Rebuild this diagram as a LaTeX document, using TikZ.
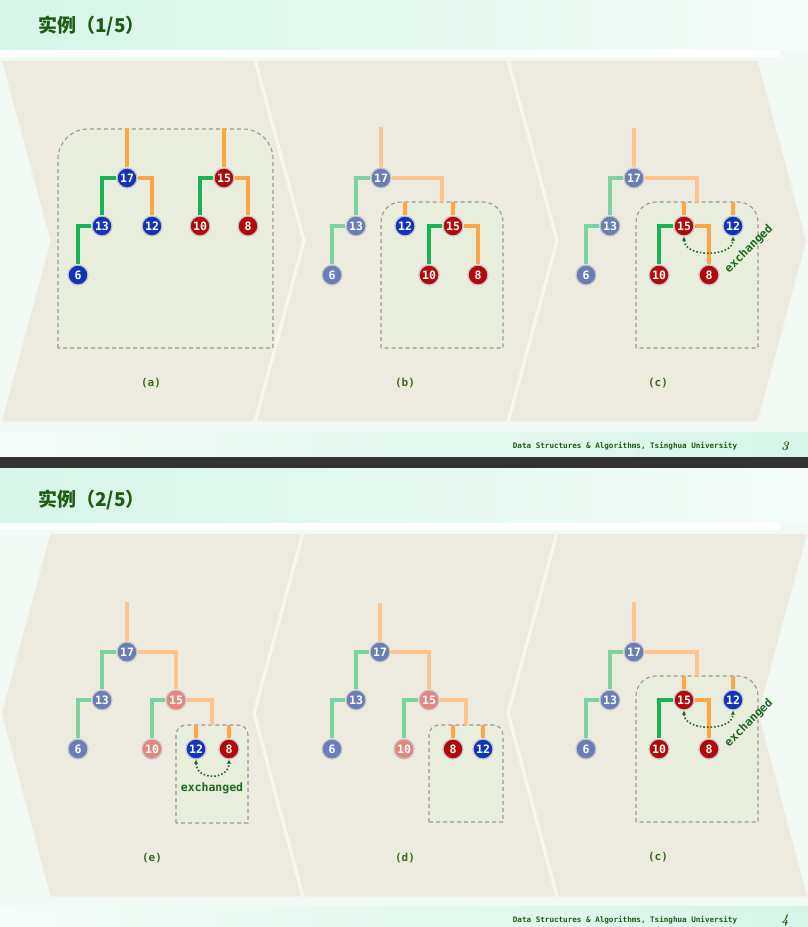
\documentclass[tikz,border=0pt]{standalone}
\usepackage{fontspec}
\usepackage{tikz}
\usetikzlibrary{positioning,arrows.meta}
\newfontfamily\cjk{Noto Sans CJK SC}
\newfontfamily\numfont{DejaVu Sans Mono}

\definecolor{pagebg}{HTML}{F1FAF5}
\definecolor{mintdeep}{HTML}{D6F5E8}
\definecolor{mintpale}{HTML}{F5FCF9}
\definecolor{darkbar}{HTML}{333333}
\definecolor{panelbeige}{HTML}{EDEBE0}
\definecolor{panelgap}{HTML}{F6F7F1}
\definecolor{boxfill}{HTML}{E9EDDC}
\definecolor{framegray}{HTML}{999999}
\definecolor{nodeblue}{HTML}{1234B6}
\definecolor{nodered}{HTML}{B20A0A}
\definecolor{fadeblue}{HTML}{6C7DB6}
\definecolor{fadered}{HTML}{E2877F}
\definecolor{rimgray}{HTML}{C8C8C8}
\definecolor{edgegreen}{HTML}{18B257}
\definecolor{edgeorange}{HTML}{FFA545}
\definecolor{fadegreen}{HTML}{7DD3A0}
\definecolor{fadeorange}{HTML}{FCC590}
\definecolor{titlegreen}{HTML}{1F5C14}
\definecolor{labelgreen}{HTML}{3B6A1C}
\definecolor{swapgreen}{HTML}{1E6B1E}

\tikzstyle{panel}=[fill=panelbeige, draw=panelgap, line width=1.5pt, line join=miter]
\tikzstyle{mergeframe}=[draw=framegray, fill=boxfill, line width=1.1pt, dash pattern=on 4pt off 3pt]
\tikzstyle{heapkey}=[circle, minimum size=20pt, inner sep=0pt, draw=rimgray, line width=1.2pt, text=white, font=\numfont\bfseries\fontsize{11.5}{12}\selectfont]
\tikzstyle{bluekey}=[heapkey, fill=nodeblue]
\tikzstyle{redkey}=[heapkey, fill=nodered]
\tikzstyle{bluefade}=[heapkey, fill=fadeblue]
\tikzstyle{redfade}=[heapkey, fill=fadered]
\tikzstyle{grn}=[draw=edgegreen, line width=3.5pt]
\tikzstyle{org}=[draw=edgeorange, line width=3.5pt]
\tikzstyle{grnfade}=[draw=fadegreen, line width=3.5pt]
\tikzstyle{orgfade}=[draw=fadeorange, line width=3.5pt]
\tikzstyle{xchg}=[draw=swapgreen, line width=1.6pt, dotted, {Latex[length=4pt,width=4.5pt]}-{Latex[length=4pt,width=4.5pt]}]
\tikzstyle{xchgtext}=[font=\numfont\bfseries\fontsize{11.5}{12}\selectfont, text=swapgreen, inner sep=1pt]
\tikzstyle{steplabel}=[font=\numfont\bfseries\fontsize{11}{11}\selectfont, text=labelgreen]
\tikzstyle{slidetitle}=[anchor=west, inner sep=0pt, font=\cjk\bfseries\fontsize{19}{19}\selectfont, text=titlegreen]
\tikzstyle{footer}=[font=\numfont\bfseries\fontsize{7.6}{8}\selectfont, text=titlegreen]
\tikzstyle{pageno}=[font=\bfseries\itshape\fontsize{13}{13}\selectfont, text=titlegreen]

% dashed box, round top corners: x1 y1 x2 y2 radius
\newcommand{\mergebox}[5]{%
    \draw[mergeframe] (#1,#4) -- (#1,#2+#5) arc[start angle=180, end angle=270, radius=#5]
        -- (#3-#5,#2) arc[start angle=270, end angle=360, radius=#5] -- (#3,#4) -- cycle;}

% step (c), drawn on both slides
\newcommand{\stepc}[2]{%
    \begin{scope}[shift={(0,#2)}]
        \mergebox{636}{202}{758}{348}{20}
        \node (#1-17)[bluefade] at (634,178) {17};
        \node (#1-13)[bluefade] at (610,226) {13};
        \node (#1-6)[bluefade] at (586,275) {6};
        \node (#1-15)[redkey] at (684,226) {15};
        \node (#1-12)[bluekey] at (733,226) {12};
        \node (#1-10)[redkey] at (659,275) {10};
        \node (#1-8)[redkey] at (709,275) {8};
        \coordinate (#1-top) at (634,128);
        \coordinate (#1-join) at (697,202);
        \coordinate (#1-s1) at (684,202);
        \coordinate (#1-s2) at (733,202);
        \draw[orgfade] (#1-top) -- (#1-17);
        \draw[grnfade] (#1-17) -| (#1-13);
        \draw[grnfade] (#1-13) -| (#1-6);
        \draw[orgfade] (#1-17) -| (#1-join);
        \draw[org] (#1-s1) -- (#1-15);
        \draw[org] (#1-s2) -- (#1-12);
        \draw[grn] (#1-15) -| (#1-10);
        \draw[org] (#1-15) -| (#1-8);
        \draw[xchg] (#1-15.south) .. controls +(0,21) and +(0,21) .. (#1-12.south);
        \node (#1-xtext)[xchgtext, rotate=45] at (749,249) {exchanged};
        \node (#1-label)[steplabel] at (658,383) {(c)};
    \end{scope}}

\begin{document}
\begin{tikzpicture}[x=1pt,y=-1pt]
    \useasboundingbox (0,0) rectangle (808,927);

    % slide bands
    \fill[pagebg] (0,0) rectangle (808,927);
    \shade[left color=mintdeep, right color=mintpale] (0,0) rectangle (808,50);
    \fill[white] (0,50) rectangle (780,57);
    \shade[left color=mintpale, right color=mintdeep] (0,432) rectangle (808,457);
    \fill[darkbar] (0,457) rectangle (808,468);
    \shade[left color=mintdeep, right color=mintpale] (0,468) rectangle (808,523);
    \fill[white] (0,523) rectangle (780,530);
    \shade[left color=mintpale, right color=mintdeep] (0,906) rectangle (808,927);

    \node (title1)[slidetitle] at (38,26) {实例（1/5）};
    \node (title2)[slidetitle] at (38,500) {实例（2/5）};
    \node (foot1)[footer] at (625,446) {Data Structures \& Algorithms, Tsinghua University};
    \node (page1)[pageno] at (785,446) {3};
    \node (foot2)[footer] at (625,920) {Data Structures \& Algorithms, Tsinghua University};
    \node (page2)[pageno] at (785,920) {4};

    % chevrons
    \foreach \l/\r in {1/254,256/507,509/758}{
        \draw[panel] (\l,60) -- (\r,60) -- (\r+49,241) -- (\r,422) -- (\l,422) -- (\l+49,241) -- cycle;
    };
    \foreach \l/\r in {50/302,304/556,558/808}{
        \draw[panel] (\l,533) -- (\r,533) -- (\r-49,713) -- (\r,897) -- (\l,897) -- (\l-49,713) -- cycle;
    };

    % (a)
    \mergebox{58}{129}{273}{348}{30}
    \node (a17)[bluekey] at (127,178) {17};
    \node (a13)[bluekey] at (102,226) {13};
    \node (a12)[bluekey] at (152,226) {12};
    \node (a6)[bluekey] at (78,275) {6};
    \node (a15)[redkey] at (224,178) {15};
    \node (a10)[redkey] at (200,226) {10};
    \node (a8)[redkey] at (248,226) {8};
    \coordinate (atop1) at (127,128);
    \coordinate (atop2) at (224,128);
    \draw[org] (atop1) -- (a17);
    \draw[grn] (a17) -| (a13);
    \draw[org] (a17) -| (a12);
    \draw[grn] (a13) -| (a6);
    \draw[org] (atop2) -- (a15);
    \draw[grn] (a15) -| (a10);
    \draw[org] (a15) -| (a8);
    \node (alabel)[steplabel] at (151,383) {(a)};

    % (b)
    \mergebox{381}{202}{503}{348}{20}
    \node (b17)[bluefade] at (381,178) {17};
    \node (b13)[bluefade] at (356,226) {13};
    \node (b6)[bluefade] at (332,275) {6};
    \node (b12)[bluekey] at (405,226) {12};
    \node (b15)[redkey] at (453,226) {15};
    \node (b10)[redkey] at (429,275) {10};
    \node (b8)[redkey] at (478,275) {8};
    \coordinate (btop) at (381,127);
    \coordinate (bjoin) at (442,202);
    \coordinate (bs1) at (405,202);
    \coordinate (bs2) at (453,202);
    \draw[orgfade] (btop) -- (b17);
    \draw[grnfade] (b17) -| (b13);
    \draw[grnfade] (b13) -| (b6);
    \draw[orgfade] (b17) -| (bjoin);
    \draw[org] (bs1) -- (b12);
    \draw[org] (bs2) -- (b15);
    \draw[grn] (b15) -| (b10);
    \draw[org] (b15) -| (b8);
    \node (blabel)[steplabel] at (405,383) {(b)};

    % (c) on both slides
    \stepc{c1}{0}
    \stepc{c2}{474}

    % (e)
    \mergebox{176}{725}{248}{823}{10}
    \node (e17)[bluefade] at (127,652) {17};
    \node (e13)[bluefade] at (102,700) {13};
    \node (e6)[bluefade] at (78,749) {6};
    \node (e15)[redfade] at (176,700) {15};
    \node (e10)[redfade] at (152,749) {10};
    \node (e12)[bluekey] at (196,749) {12};
    \node (e8)[redkey] at (229,749) {8};
    \coordinate (etop) at (127,602);
    \coordinate (ejoin) at (212,725);
    \coordinate (es1) at (196,725);
    \coordinate (es2) at (229,725);
    \draw[orgfade] (etop) -- (e17);
    \draw[grnfade] (e17) -| (e13);
    \draw[grnfade] (e13) -| (e6);
    \draw[orgfade] (e17) -| (e15);
    \draw[grnfade] (e15) -| (e10);
    \draw[orgfade] (e15) -| (ejoin);
    \draw[org] (es1) -- (e12);
    \draw[org] (es2) -- (e8);
    \draw[xchg] (e12.south) .. controls +(0,21) and +(0,21) .. (e8.south);
    \node (extext)[xchgtext] at (212,788) {exchanged};
    \node (elabel)[steplabel] at (152,858) {(e)};

    % (d)
    \mergebox{429}{725}{503}{822}{10}
    \node (d17)[bluefade] at (380,652) {17};
    \node (d13)[bluefade] at (356,700) {13};
    \node (d6)[bluefade] at (332,749) {6};
    \node (d15)[redfade] at (429,700) {15};
    \node (d10)[redfade] at (404,749) {10};
    \node (d8)[redkey] at (453,749) {8};
    \node (d12)[bluekey] at (483,749) {12};
    \coordinate (dtop) at (380,603);
    \coordinate (djoin) at (466,725);
    \coordinate (ds1) at (453,725);
    \coordinate (ds2) at (483,725);
    \draw[orgfade] (dtop) -- (d17);
    \draw[grnfade] (d17) -| (d13);
    \draw[grnfade] (d13) -| (d6);
    \draw[orgfade] (d17) -| (d15);
    \draw[grnfade] (d15) -| (d10);
    \draw[orgfade] (d15) -| (djoin);
    \draw[org] (ds1) -- (d8);
    \draw[org] (ds2) -- (d12);
    \node (dlabel)[steplabel] at (405,858) {(d)};

\end{tikzpicture}
\end{document}
